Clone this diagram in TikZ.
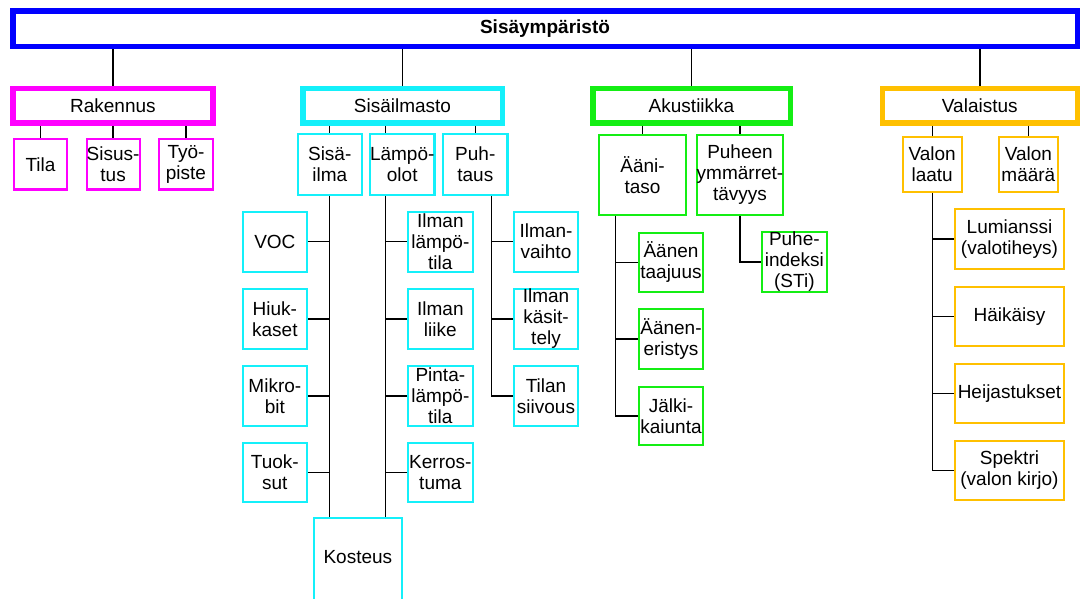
\documentclass[tikz,border=0pt]{standalone}
\usepackage{fontspec}
\setmainfont{Liberation Sans}
\usetikzlibrary{calc}
\definecolor{cblue}{RGB}{0,0,255}
\definecolor{cmag}{RGB}{255,0,255}
\definecolor{ccyan}{RGB}{20,240,250}
\definecolor{cgreen}{RGB}{20,238,20}
\definecolor{corange}{RGB}{255,192,0}
\newcommand\nbox[7]{%
  \node[#1, minimum width={#5-#3-2.2}, minimum height={#6-#4-2.2}] (#2) at ({(#3+#5)/2},{(#4+#6)/2}) {#7};}
\begin{document}
\begin{tikzpicture}[x=1pt,y=-1pt,
  txt/.style={font=\fontsize{19}{21}\selectfont, align=center, inner sep=0pt},
  big/.style={txt, draw, line width=5.5pt, fill=white},
  small/.style={txt, draw, line width=2.2pt, fill=white},
  mag/.style={small, draw=cmag},
  cya/.style={small, draw=ccyan},
  gre/.style={small, draw=cgreen},
  ora/.style={small, draw=corange},
  conn/.style={draw=black, line width=1.4pt}]
\clip (0,0) rectangle (1080,599);
\fill[white] (0,0) rectangle (1080,599);

% top
\node[big, draw=cblue, minimum width=1064.5, minimum height=35.2, font=\fontsize{19}{21}\selectfont\bfseries] (top) at (545,28.7) {Sisäympäristö};

% level 1
\node[big, draw=cmag, minimum width=199.7, minimum height=34.5] (rak) at (112.9,106) {Rakennus};
\node[big, draw=ccyan, minimum width=199.5, minimum height=34.5] (sis) at (402.5,106) {Sisäilmasto};
\node[big, draw=cgreen, minimum width=197.5, minimum height=34.5] (aku) at (691.5,106) {Akustiikka};
\node[big, draw=corange, minimum width=194.9, minimum height=34.5] (val) at (979.8,106) {Valaistus};

% Rakennus
\nbox{mag}{tila}{13}{138.3}{68}{190.7}{Tila}
\nbox{mag}{sisustus}{85.5}{138.3}{140.7}{190.7}{Sisus-\\tus}
\nbox{mag}{tyopiste}{158}{138.3}{214}{190.7}{Työ-\\piste}

% Sisäilmasto
\nbox{cya}{sisailma}{296.5}{133.3}{363}{196}{Sisä-\\ilma}
\nbox{cya}{lampo}{369}{133.3}{435.5}{196}{Lämpö-\\olot}
\nbox{cya}{puhtaus}{442}{133.3}{508.6}{196}{Puh-\\taus}

\nbox{cya}{voc}{241.7}{210.7}{308}{272.7}{VOC}
\nbox{cya}{hiuk}{241.7}{287.7}{308}{350}{Hiuk-\\kaset}
\nbox{cya}{mikro}{241.7}{365}{308}{426.7}{Mikro-\\bit}
\nbox{cya}{tuok}{241.7}{441.7}{308}{503}{Tuok-\\sut}

\nbox{cya}{ilt}{406.7}{210.7}{474}{272.7}{Ilman\\lämpö-\\tila}
\nbox{cya}{ill}{406.7}{287.7}{474}{350}{Ilman\\liike}
\nbox{cya}{pinta}{406.7}{365}{474}{426.7}{Pinta-\\lämpö-\\tila}
\nbox{cya}{kerros}{406.7}{441.7}{474}{503}{Kerros-\\tuma}

\nbox{cya}{vaihto}{512.7}{210.7}{579.3}{272.7}{Ilman-\\vaihto}
\nbox{cya}{kasit}{512.7}{287.7}{579.3}{350}{Ilman\\käsit-\\tely}
\nbox{cya}{tilan}{512.7}{365}{579.3}{426.7}{Tilan\\siivous}

\node[cya, minimum width=87.5, minimum height=89.8, text height=14pt, text depth=12.4pt] (kosteus) at (357.85,563) {Kosteus};

% Akustiikka
\nbox{gre}{aanitaso}{598}{134}{687}{216}{Ääni-\\taso}
\nbox{gre}{puheen}{696}{134}{784}{216}{Puheen\\ymmärret-\\tävyys}
\nbox{gre}{taaj}{637.7}{231.7}{704.3}{293}{Äänen\\taajuus}
\nbox{gre}{eris}{637.7}{308}{704.3}{370}{Äänen-\\eristys}
\nbox{gre}{jalki}{637.7}{385.7}{704.3}{446}{Jälki-\\kaiunta}
\nbox{gre}{puheind}{761}{231}{827.7}{293}{Puhe-\\indeksi\\(STi)}

% Valaistus
\nbox{ora}{vlaatu}{901.7}{135.7}{962.7}{193}{Valon\\laatu}
\nbox{ora}{vmaara}{997.7}{135.7}{1059}{193}{Valon\\määrä}
\nbox{ora}{lumi}{954}{208}{1065}{270}{Lumianssi\\(valotiheys)}
\nbox{ora}{haik}{954}{285.7}{1065}{347}{Häikäisy}
\nbox{ora}{heij}{954}{362.7}{1065}{424}{Heijastukset}
\nbox{ora}{spek}{954}{440}{1065}{501}{Spektri\\(valon kirjo)}

% connectors top -> level 1
\foreach \n in {rak,sis,aku,val} \draw[conn] (top.south -| \n.north) -- (\n.north);

% Rakennus
\foreach \n in {tila,sisustus,tyopiste} \draw[conn] (rak.south -| \n.north) -- (\n.north);

% Sisäilmasto
\coordinate (lt) at ($(lampo.north west)!0.25!(lampo.north east)$);
\coordinate (lb) at ($(lampo.south west)!0.25!(lampo.south east)$);
\coordinate (pb) at ($(puhtaus.south west)!0.74!(puhtaus.south east)$);
\draw[conn] (sis.south -| sisailma.north) -- (sisailma.north);
\draw[conn] (sis.south -| lt) -- (lt);
\draw[conn] (sis.south -| puhtaus.north) -- (puhtaus.north);

\draw[conn] (sisailma.south) -- (sisailma.south |- kosteus.north);
\foreach \n in {voc,hiuk,mikro,tuok} \draw[conn] (\n.east) -- (\n.east -| sisailma.south);

\draw[conn] (lb) -- (lb |- kosteus.north);
\foreach \n in {ilt,ill,pinta,kerros} \draw[conn] (lb |- \n.west) -- (\n.west);

\draw[conn] (pb) -- (pb |- tilan.west) -- (tilan.west);
\foreach \n in {vaihto,kasit} \draw[conn] (pb |- \n.west) -- (\n.west);

% Akustiikka
\coordinate (ab) at ($(aanitaso.south west)!0.195!(aanitaso.south east)$);
\draw[conn] (aku.south -| aanitaso.north) -- (aanitaso.north);
\draw[conn] (aku.south -| puheen.north) -- (puheen.north);
\draw[conn] (ab) -- (ab |- jalki.west) -- (jalki.west);
\foreach \n in {taaj,eris} \draw[conn] (ab |- \n.west) -- (\n.west);
\draw[conn] (puheen.south) -- (puheen.south |- puheind.west) -- (puheind.west);

% Valaistus
\draw[conn] (val.south -| vlaatu.north) -- (vlaatu.north);
\draw[conn] (val.south -| vmaara.north) -- (vmaara.north);
\draw[conn] (vlaatu.south) -- (vlaatu.south |- spek.west) -- (spek.west);
\foreach \n in {lumi,haik,heij} \draw[conn] (vlaatu.south |- \n.west) -- (\n.west);
\end{tikzpicture}
\end{document}
